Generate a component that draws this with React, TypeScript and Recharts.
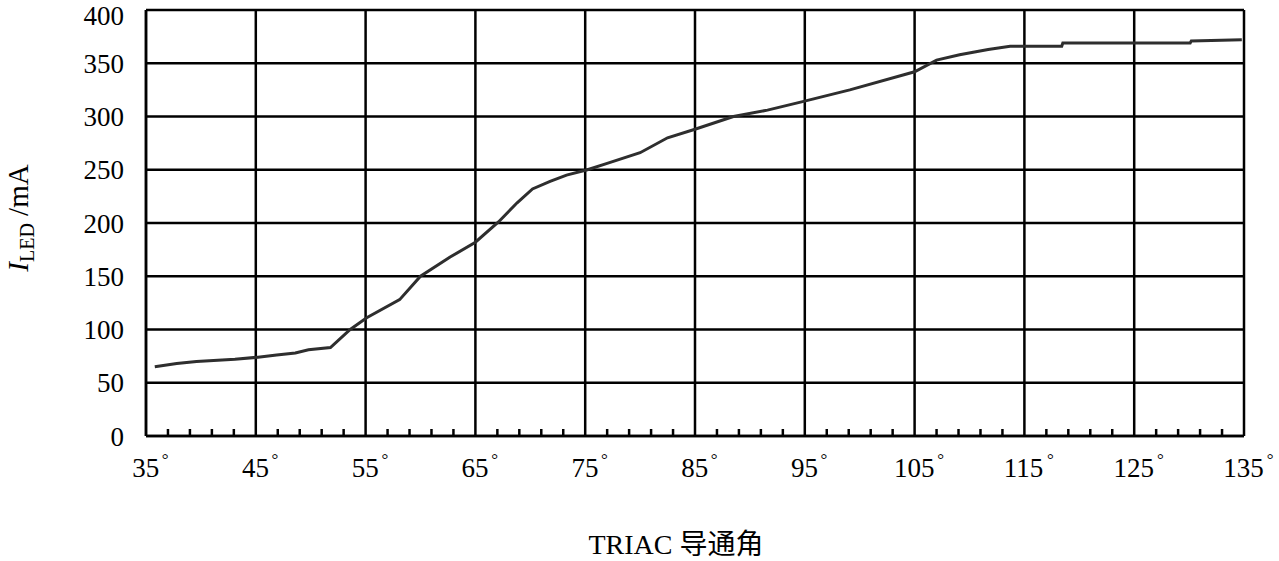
import { CartesianGrid, Line, LineChart, XAxis, YAxis } from "recharts"

// TRIAC conduction angle (degrees) vs LED current (mA)
const angles = [
  35.8, 37.8, 39.6, 43.1, 45.2, 46.9, 48.6, 49.8, 51.8, 53.6, 55.1, 58.1, 60, 62.7,
  65, 67.1, 68.8, 70.2, 71.8, 73.3, 75.2, 77, 80, 82.5, 85, 88.5, 91.6, 94.8, 99.1,
  105, 107, 109.1, 111.7, 113.7, 118.4, 118.5, 130.1, 130.2, 134.8,
]
const currents = [
  65, 68, 70, 72, 74, 76, 78, 81, 83, 100, 111, 128, 150, 168,
  182, 201, 219, 232, 239, 245, 250, 256, 266, 280, 288, 300, 306, 314, 325,
  342, 353, 358, 363, 366, 366, 369, 369, 371, 372,
]

const majorTicks = [35, 45, 55, 65, 75, 85, 95, 105, 115, 125, 135]
const minorTicks = Array.from({ length: 51 }, (_, i) => 35 + i * 2)
const yTicks = [0, 50, 100, 150, 200, 250, 300, 350, 400]

const data = angles.map((a, i) => ({ angle: a, current: currents[i] }))

const serif = "'Liberation Serif', 'Times New Roman', 'Noto Sans CJK SC', serif"

function AngleTick(props: any) {
  const { x, y, payload } = props
  const v = payload.value as number
  const isMajor = majorTicks.includes(v)
  if (!isMajor) {
    return <line x1={x} x2={x} y1={y} y2={y - 7} stroke="#000" strokeWidth={2.5} />
  }
  const digits = String(v)
  const half = digits.length * 6.9
  return (
    <g>
      <text x={x - half} y={y + 41} fontFamily={serif} fontSize={27} fill="#000">
        {digits}
      </text>
      <text x={x + half + 2} y={y + 29} fontFamily={serif} fontSize={17} fill="#000">
        °
      </text>
    </g>
  )
}

function YLabel() {
  return (
    <text
      transform="translate(28, 218) rotate(-90)"
      textAnchor="middle"
      fontFamily={serif}
      fontSize={29}
      fill="#000"
    >
      <tspan fontStyle="italic">I</tspan>
      <tspan fontSize={20} dy={6}>LED</tspan>
      <tspan dy={-6}> /mA</tspan>
    </text>
  )
}

function XLabel() {
  return (
    <text x={676} y={554} textAnchor="middle" fontFamily={serif} fontSize={28} fill="#000">
      TRIAC 导通角
    </text>
  )
}

export default function App() {
  return (
    <div style={{ position: "absolute", left: 0, top: 0, background: "#fff" }}>
      <LineChart
        width={1279}
        height={561}
        data={data}
        margin={{ top: 10, right: 35, bottom: 95, left: 0 }}
      >
        <CartesianGrid
          stroke="#000"
          strokeWidth={2.5}
          verticalValues={majorTicks}
          horizontalValues={yTicks}
        />
        <XAxis
          dataKey="angle"
          type="number"
          domain={[35, 135]}
          ticks={minorTicks}
          interval={0}
          height={30}
          tickSize={0}
          tickMargin={0}
          tickLine={false}
          tick={<AngleTick />}
          axisLine={{ stroke: "#000", strokeWidth: 2.5 }}
          label={<XLabel />}
        />
        <YAxis
          type="number"
          domain={[0, 400]}
          ticks={yTicks}
          width={146}
          tickSize={0}
          tickMargin={22}
          tickLine={false}
          axisLine={{ stroke: "#000", strokeWidth: 2.5 }}
          tick={{ fill: "#000", fontSize: 27, fontFamily: serif }}
          label={<YLabel />}
        />
        <Line
          dataKey="current"
          type="linear"
          stroke="#2e2e2e"
          strokeWidth={3}
          dot={false}
          isAnimationActive={false}
        />
      </LineChart>
    </div>
  )
}
